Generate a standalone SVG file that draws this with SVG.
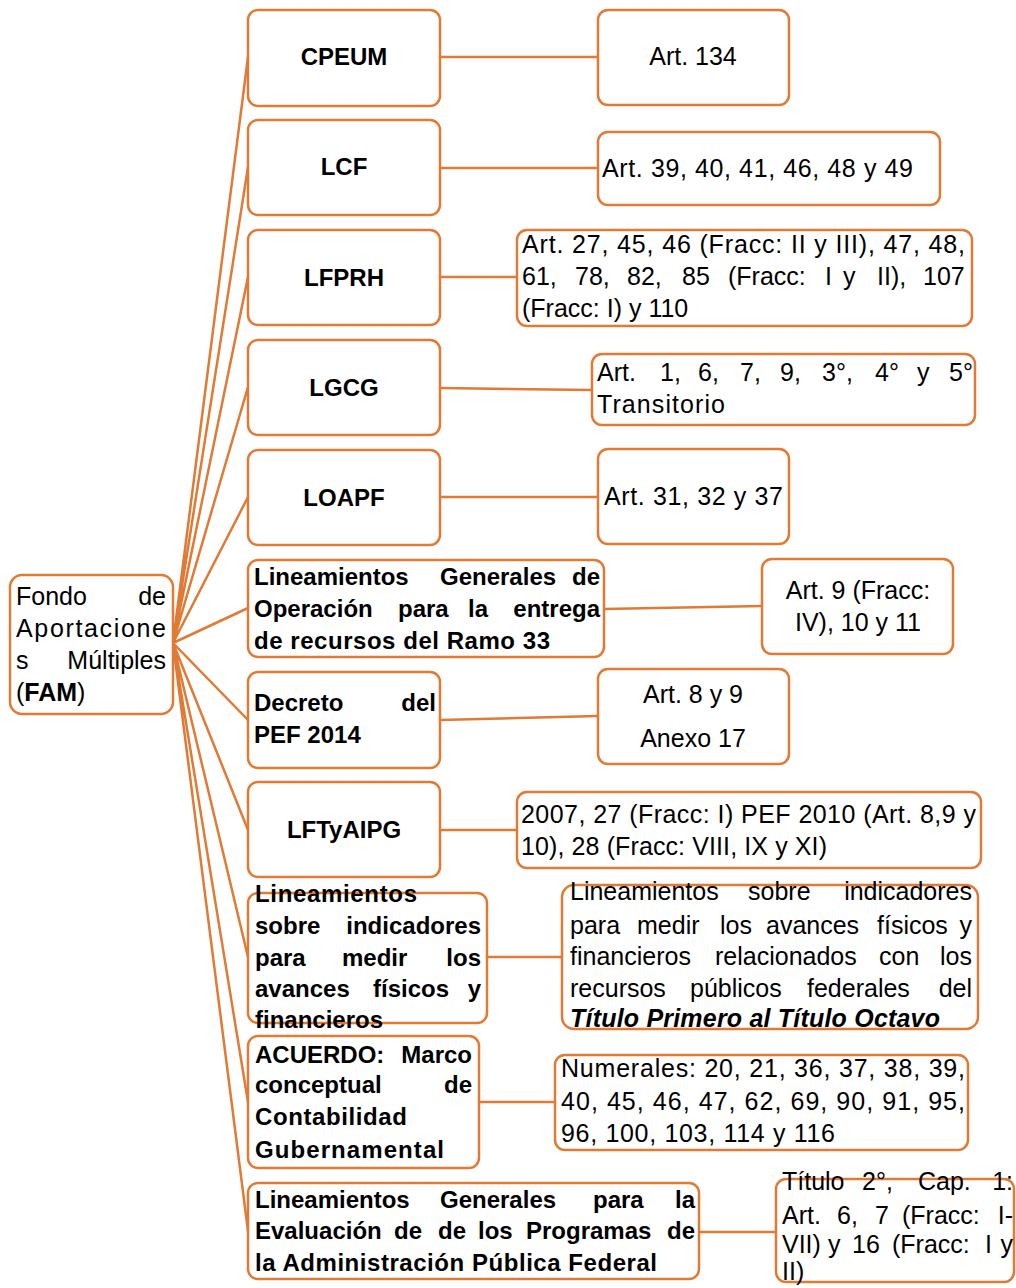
<svg xmlns="http://www.w3.org/2000/svg" width="1016" height="1288" viewBox="0 0 1016 1288">
<style>
.box{fill:#fff;stroke:#E07A35;stroke-width:2.5}
.conn{stroke:#E07A35;stroke-width:2.5;fill:none}
.t{font-family:"Liberation Sans",Arial,sans-serif;font-size:25px;fill:#000}
.b{font-weight:bold;font-size:24px}
.bi{font-weight:bold;font-style:italic}
.c{text-anchor:middle}
.e{text-anchor:end}
</style>
<rect width="1016" height="1288" fill="#fff"/>
<g id="connectors">
<path class="conn" d="M173,643 L248,57 M173,643 L248,167 M173,643 L248,277 M173,643 L248,387 M173,643 L248,497 M173,643 L248,608 M173,643 L248,720 M173,643 L248,830 M173,643 L248,957 M173,643 L248,1102 M173,643 L248,1231"/>
<path class="conn" d="M440,57 L598,57 M440,168 L598,168 M440,277 L517,277 M440,388 L592,390 M440,497 L598,497 M604,609 L762,606 M440,720 L598,716 M440,830 L517,830 M487,957 L562,957 M479,1102 L555,1102 M699,1232 L776,1232"/>
</g>
<g id="fam">
<rect class="box" x="10" y="575" width="163" height="139" rx="12"/>
<text class="t" x="16" y="605">Fondo</text><text class="t e" x="166" y="605">de</text>
<text class="t" x="16" y="637" textLength="150">Aportacione</text>
<text class="t" x="16" y="669">s</text><text class="t e" x="166" y="669">Múltiples</text>
<text class="t" x="16" y="701">(<tspan font-weight="bold">FAM</tspan>)</text>
</g>
<g id="cpeum">
<rect class="box" x="248" y="10" width="192" height="96" rx="10"/>
<text class="t b c" x="344" y="65">CPEUM</text>
</g>
<g id="lcf">
<rect class="box" x="248" y="120" width="192" height="95" rx="10"/>
<text class="t b c" x="344" y="175">LCF</text>
</g>
<g id="lfprh">
<rect class="box" x="248" y="230" width="192" height="95" rx="10"/>
<text class="t b c" x="344" y="286">LFPRH</text>
</g>
<g id="lgcg">
<rect class="box" x="248" y="340" width="192" height="95" rx="10"/>
<text class="t b c" x="344" y="396">LGCG</text>
</g>
<g id="loapf">
<rect class="box" x="248" y="450" width="192" height="95" rx="10"/>
<text class="t b c" x="344" y="506">LOAPF</text>
</g>
<g id="lineamientos-operacion">
<rect class="box" x="248" y="560" width="356" height="97" rx="10"/>
<text class="t b" y="585"><tspan x="254">Lineamientos</tspan><tspan x="440">Generales</tspan></text><text class="t b e" x="600" y="585">de</text>
<text class="t b" y="617"><tspan x="254">Operación</tspan><tspan x="398">para</tspan><tspan x="468">la</tspan></text><text class="t b e" x="600" y="617">entrega</text>
<text class="t b" x="254" y="649" textLength="296">de recursos del Ramo 33</text>
</g>
<g id="decreto">
<rect class="box" x="248" y="672" width="192" height="96" rx="10"/>
<text class="t b" x="254" y="711">Decreto</text><text class="t b e" x="436" y="711">del</text>
<text class="t b" x="254" y="743">PEF 2014</text>
</g>
<g id="lftyaipg">
<rect class="box" x="248" y="782" width="192" height="95" rx="10"/>
<text class="t b c" x="344" y="838">LFTyAIPG</text>
</g>
<g id="lineamientos-indicadores">
<rect class="box" x="248" y="893" width="239" height="130" rx="10"/>
<text class="t b" x="255" y="902" textLength="162">Lineamientos</text>
<text class="t b" x="255" y="934">sobre</text><text class="t b e" x="481" y="934">indicadores</text>
<text class="t b" y="966"><tspan x="255">para</tspan><tspan x="342">medir</tspan></text><text class="t b e" x="481" y="966">los</text>
<text class="t b" y="997"><tspan x="255">avances</tspan><tspan x="373">físicos</tspan></text><text class="t b e" x="481" y="997">y</text>
<text class="t b" x="255" y="1028">financieros</text>
</g>
<g id="acuerdo">
<rect class="box" x="248" y="1036" width="231" height="132" rx="10"/>
<text class="t b" x="255" y="1063">ACUERDO:</text><text class="t b e" x="472" y="1063">Marco</text>
<text class="t b" x="255" y="1093">conceptual</text><text class="t b e" x="472" y="1093">de</text>
<text class="t b" x="255" y="1125" textLength="152">Contabilidad</text>
<text class="t b" x="255" y="1158" textLength="189">Gubernamental</text>
</g>
<g id="lineamientos-evaluacion">
<rect class="box" x="248" y="1183" width="451" height="96" rx="10"/>
<text class="t b" y="1208"><tspan x="255">Lineamientos</tspan><tspan x="440">Generales</tspan><tspan x="593">para</tspan></text><text class="t b e" x="695" y="1208">la</text>
<text class="t b" y="1239"><tspan x="255">Evaluación</tspan><tspan x="394">de</tspan><tspan x="438">de</tspan><tspan x="478">los</tspan><tspan x="526">Programas</tspan></text><text class="t b e" x="695" y="1239">de</text>
<text class="t b" x="255" y="1271" textLength="402">la Administración Pública Federal</text>
</g>
<g id="r-cpeum">
<rect class="box" x="598" y="10" width="191" height="95" rx="10"/>
<text class="t c" x="693" y="65">Art. 134</text>
</g>
<g id="r-lcf">
<rect class="box" x="598" y="132" width="342" height="73" rx="10"/>
<text class="t" x="602" y="177" textLength="311">Art. 39, 40, 41, 46, 48 y 49</text>
</g>
<g id="r-lfprh">
<rect class="box" x="517" y="230" width="455" height="96" rx="10"/>
<text class="t" x="522" y="253" textLength="443">Art. 27, 45, 46 (Fracc: II y III), 47, 48,</text>
<text class="t" y="285"><tspan x="522">61,</tspan><tspan x="575">78,</tspan><tspan x="627">82,</tspan><tspan x="682">85</tspan><tspan x="728">(Fracc:</tspan><tspan x="825">I</tspan><tspan x="843">y</tspan><tspan x="877">II),</tspan><tspan x="923">107</tspan></text>
<text class="t" x="522" y="317">(Fracc: I) y 110</text>
</g>
<g id="r-lgcg">
<rect class="box" x="592" y="354" width="383" height="71" rx="10"/>
<text class="t" y="381"><tspan x="597">Art.</tspan><tspan x="660">1,</tspan><tspan x="698">6,</tspan><tspan x="740">7,</tspan><tspan x="780">9,</tspan><tspan x="822">3°,</tspan><tspan x="875">4°</tspan><tspan x="917">y</tspan><tspan x="949">5°</tspan></text>
<text class="t" x="597" y="413" textLength="128">Transitorio</text>
</g>
<g id="r-loapf">
<rect class="box" x="598" y="449" width="191" height="95" rx="10"/>
<text class="t" x="604" y="505" textLength="179">Art. 31, 32 y 37</text>
</g>
<g id="r-lineamientos-operacion">
<rect class="box" x="762" y="559" width="191" height="95" rx="10"/>
<text class="t c" x="858" y="599">Art. 9 (Fracc:</text>
<text class="t c" x="858" y="631">IV), 10 y 11</text>
</g>
<g id="r-decreto">
<rect class="box" x="598" y="669" width="191" height="95" rx="10"/>
<text class="t c" x="693" y="703">Art. 8 y 9</text>
<text class="t c" x="693" y="747">Anexo 17</text>
</g>
<g id="r-lftyaipg">
<rect class="box" x="517" y="792" width="464" height="76" rx="10"/>
<text class="t" x="521" y="823" textLength="455">2007, 27 (Fracc: I) PEF 2010 (Art. 8,9 y</text>
<text class="t" x="521" y="855" textLength="306">10), 28 (Fracc: VIII, IX y XI)</text>
</g>
<g id="r-lineamientos-indicadores">
<rect class="box" x="562" y="885" width="416" height="144" rx="12"/>
<text class="t" y="900"><tspan x="570">Lineamientos</tspan><tspan x="748">sobre</tspan></text><text class="t e" x="972" y="900">indicadores</text>
<text class="t" y="934"><tspan x="570">para</tspan><tspan x="637">medir</tspan><tspan x="720">los</tspan><tspan x="766">avances</tspan><tspan x="877">físicos</tspan></text><text class="t e" x="972" y="934">y</text>
<text class="t" y="965"><tspan x="570">financieros</tspan><tspan x="715">relacionados</tspan><tspan x="879">con</tspan></text><text class="t e" x="972" y="965">los</text>
<text class="t" y="997"><tspan x="570">recursos</tspan><tspan x="690">públicos</tspan><tspan x="807">federales</tspan></text><text class="t e" x="972" y="997">del</text>
<text class="t bi" x="570" y="1027" textLength="370">Título Primero al Título Octavo</text>
</g>
<g id="r-acuerdo">
<rect class="box" x="555" y="1055" width="413" height="95" rx="10"/>
<text class="t" x="561" y="1077" textLength="404">Numerales: 20, 21, 36, 37, 38, 39,</text>
<text class="t" x="561" y="1110" textLength="404">40, 45, 46, 47, 62, 69, 90, 91, 95,</text>
<text class="t" x="561" y="1142" textLength="274">96, 100, 103, 114 y 116</text>
</g>
<g id="r-lineamientos-evaluacion">
<rect class="box" x="776" y="1179" width="238" height="103" rx="10"/>
<text class="t" y="1190"><tspan x="782">Título</tspan><tspan x="862">2°,</tspan><tspan x="918">Cap.</tspan></text><text class="t e" x="1013" y="1190">1:</text>
<text class="t" y="1224"><tspan x="782">Art.</tspan><tspan x="837">6,</tspan><tspan x="875">7</tspan><tspan x="902">(Fracc:</tspan></text><text class="t e" x="1013" y="1224">I-</text>
<text class="t" y="1253"><tspan x="782">VII)</tspan><tspan x="828">y</tspan><tspan x="852">16</tspan><tspan x="892">(Fracc:</tspan><tspan x="985">I</tspan></text><text class="t e" x="1013" y="1253">y</text>
<text class="t" x="782" y="1280">II)</text>
</g>
</svg>
